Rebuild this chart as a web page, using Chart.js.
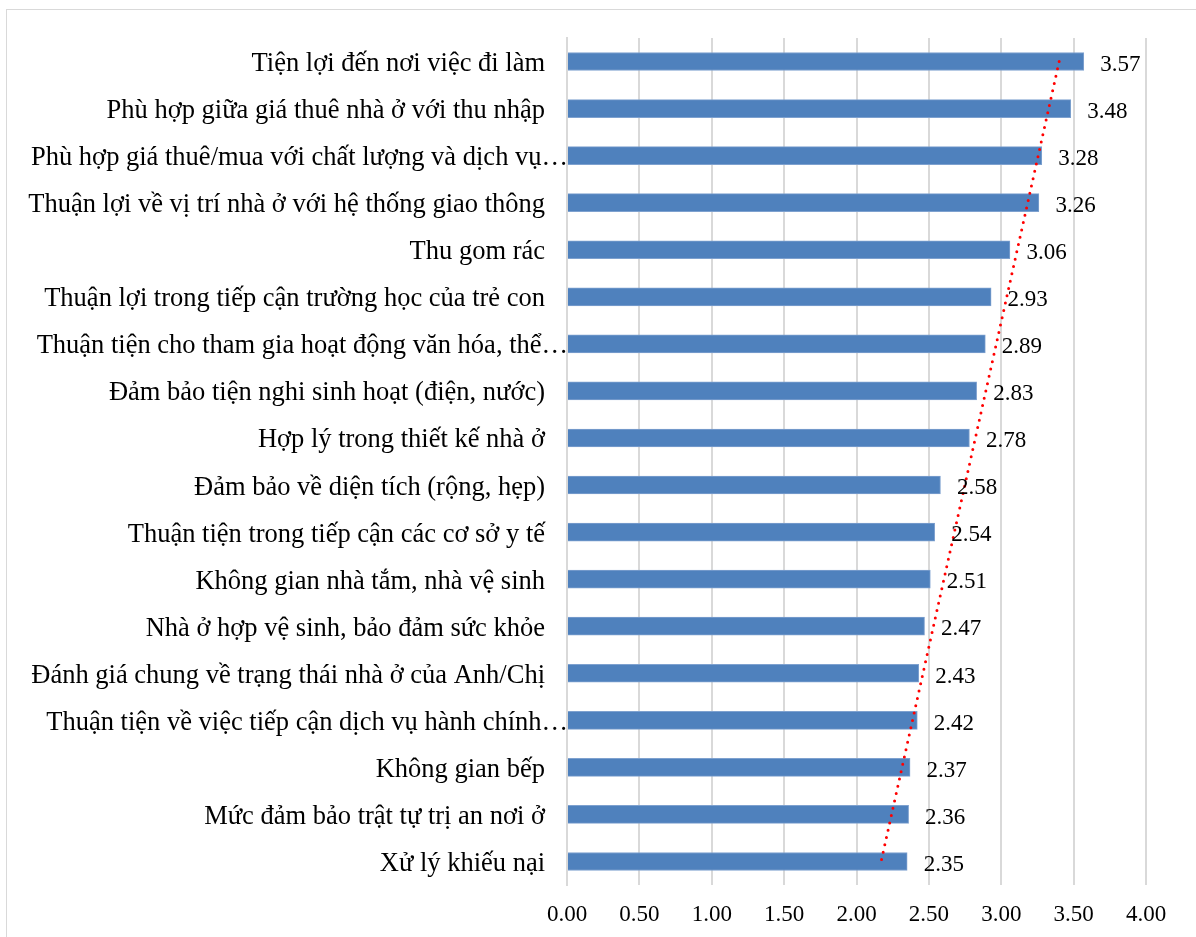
<!DOCTYPE html>
<html>
<head>
<meta charset="utf-8">
<script src="https://cdn.jsdelivr.net/npm/chart.js@4/dist/chart.umd.min.js"></script>
<style>
  html, body { margin: 0; padding: 0; background: #ffffff; }
  #frame { position: absolute; left: 6px; top: 9px; width: 1200px; height: 940px; border: 1px solid #d9d9d9; box-sizing: border-box; }
  #wrap { position: absolute; left: 0; top: 0; width: 1196px; height: 937px; }
</style>
</head>
<body>
<div id="frame"></div>
<div id="wrap"><canvas id="c" width="1196" height="937"></canvas></div>
<script>
// Categories, top to bottom as displayed
const categories = [
  "Tiện lợi đến nơi việc đi làm",
  "Phù hợp giữa giá thuê nhà ở với thu nhập",
  "Phù hợp giá thuê/mua với chất lượng và dịch vụ…",
  "Thuận lợi về vị trí nhà ở với hệ thống giao thông",
  "Thu gom rác",
  "Thuận lợi trong tiếp cận trường học của trẻ con",
  "Thuận tiện cho tham gia hoạt động văn hóa, thể…",
  "Đảm bảo tiện nghi sinh hoạt (điện, nước)",
  "Hợp lý trong thiết kế nhà ở",
  "Đảm bảo về diện tích (rộng, hẹp)",
  "Thuận tiện trong tiếp cận các cơ sở y tế",
  "Không gian nhà tắm, nhà vệ sinh",
  "Nhà ở hợp vệ sinh, bảo đảm sức khỏe",
  "Đánh giá chung về trạng thái nhà ở của Anh/Chị",
  "Thuận tiện về việc tiếp cận dịch vụ hành chính…",
  "Không gian bếp",
  "Mức đảm bảo trật tự trị an nơi ở",
  "Xử lý khiếu nại"
];
const scores = [3.57, 3.48, 3.28, 3.26, 3.06, 2.93, 2.89, 2.83, 2.78, 2.58, 2.54, 2.51, 2.47, 2.43, 2.42, 2.37, 2.36, 2.35];
// Linear trendline ends (top category, bottom category)
const trendEnds = [3.40, 2.17];
const xTicks = [0, 0.5, 1, 1.5, 2, 2.5, 3, 3.5, 4];

const FONT = "'Liberation Serif', 'Times New Roman', serif";
const CAT_SIZE = 26.5;
const NUM_SIZE = 23;

// Category labels drawn at the y scale's tick positions (truncated ones overhang like the original)
const categoryLabels = {
  id: 'categoryLabels',
  afterDraw(chart) {
    const ctx = chart.ctx;
    const y = chart.scales.y;
    ctx.save();
    ctx.font = CAT_SIZE + "px " + FONT;
    ctx.fillStyle = '#000000';
    ctx.textAlign = 'right';
    ctx.textBaseline = 'alphabetic';
    categories.forEach((lab, i) => {
      const py = y.getPixelForTick(i);
      const px = lab.endsWith('…') ? y.right + 1 : y.right - 22;
      ctx.fillText(lab, px, py + 9.5);
    });
    ctx.restore();
  }
};

const valueLabels = {
  id: 'valueLabels',
  afterDatasetsDraw(chart) {
    const ctx = chart.ctx;
    const meta = chart.getDatasetMeta(1);
    ctx.save();
    ctx.font = NUM_SIZE + "px " + FONT;
    ctx.fillStyle = '#000000';
    ctx.textAlign = 'left';
    ctx.textBaseline = 'alphabetic';
    meta.data.forEach((bar, i) => {
      ctx.fillText(scores[i].toFixed(2), bar.x + 16.5, bar.y + 9.3);
    });
    ctx.restore();
  }
};

const trendData = [
  { x: trendEnds[0], y: categories[0] },
  { x: trendEnds[1], y: categories[categories.length - 1] }
];

new Chart(document.getElementById('c'), {
  data: {
    labels: categories,
    datasets: [
      {
        type: 'line',
        data: trendData,
        borderColor: '#ff0000',
        borderWidth: 3,
        borderDash: [0, 7.5],
        borderCapStyle: 'round',
        pointRadius: 0,
        fill: false,
        order: 0
      },
      {
        type: 'bar',
        data: scores,
        backgroundColor: '#4f81bd',
        borderColor: '#7ea1cf',
        borderWidth: 1,
        barThickness: 18,
        order: 1
      }
    ]
  },
  options: {
    indexAxis: 'y',
    responsive: false,
    animation: false,
    devicePixelRatio: 1,
    layout: { padding: { left: 0, right: 50, top: 38, bottom: 0 } },
    plugins: { legend: { display: false }, tooltip: { enabled: false } },
    scales: {
      x: {
        type: 'linear',
        min: 0,
        max: 4,
        afterBuildTicks(scale) { scale.ticks = xTicks.map(v => ({ value: v })); },
        afterFit(scale) { scale.height = 52; },
        ticks: {
          padding: 16,
          color: '#000000',
          font: { family: FONT, size: NUM_SIZE },
          callback: v => Number(v).toFixed(2),
          maxRotation: 0
        },
        grid: { color: '#d9d9d9', lineWidth: 2, drawTicks: false },
        border: { display: false }
      },
      y: {
        type: 'category',
        afterFit(scale) { scale.width = 567; },
        ticks: { display: false, autoSkip: false },
        grid: { display: false, drawTicks: false },
        border: { display: true, color: '#d9d9d9', width: 2 }
      }
    }
  },
  plugins: [valueLabels, categoryLabels]
});
</script>
</body>
</html>
